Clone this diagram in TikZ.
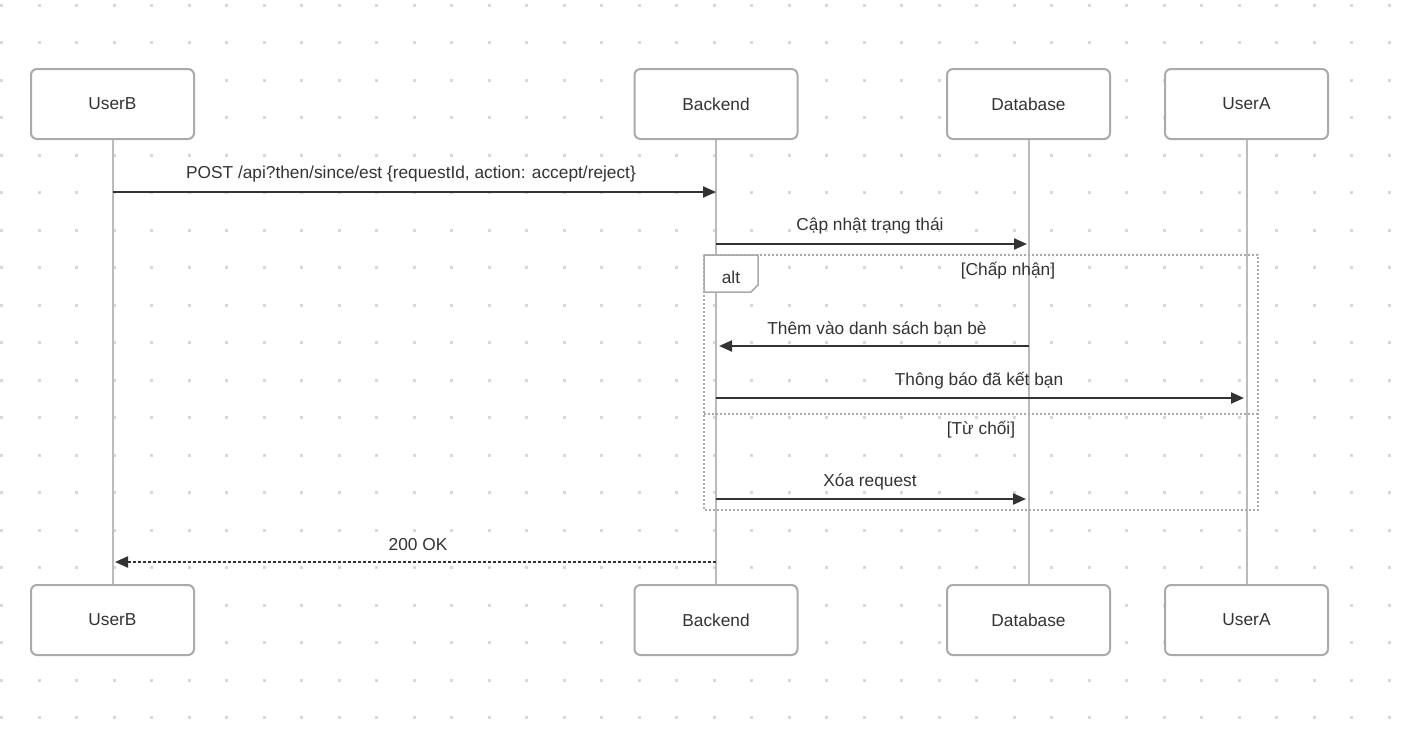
\documentclass[tikz,border=0pt]{standalone}
\usepackage{fontspec}
\setmainfont{Liberation Sans}
\usetikzlibrary{arrows.meta}
\definecolor{txt}{HTML}{333333}
\definecolor{boxline}{HTML}{AAAAAA}
\definecolor{life}{HTML}{BBBBBB}
\definecolor{griddot}{HTML}{D8D8D8}
\tikzset{
  actor/.style={draw=boxline, line width=2pt, rounded corners=6pt, fill=white,
    minimum width=163pt, minimum height=70pt, text=txt, font=\fontsize{17.3}{20}\selectfont},
  lifeline/.style={draw=life, line width=2pt},
  msg/.style={draw=txt, line width=2.2pt, -{Triangle[length=13pt,width=11pt]}},
  reply/.style={msg, dash pattern=on 3pt off 2pt},
  lbl/.style={text=txt, font=\fontsize{17.3}{20}\selectfont, inner sep=0pt},
  frameline/.style={draw=boxline, line width=2pt, dash pattern=on 2pt off 2pt},
}
\begin{document}
\begin{tikzpicture}[x=1pt,y=-1pt]
\useasboundingbox (0,0) rectangle (1407,728);
\fill[white] (0,0) rectangle (1407,728);
% dot grid
\foreach \i in {0,...,37}{
  \foreach \j in {0,...,19}{
    \fill[griddot] ({37.5*\i},{3.5+37.5*\j}) rectangle ++(3,3);
  }
}
% participants
\node[actor] (bT) at (112.5,104) {UserB};
\node[actor] (kT) at (716,104) {Backend};
\node[actor] (dT) at (1028.5,104) {Database};
\node[actor] (aT) at (1246.5,104) {UserA};
\node[actor] (bB) at (112.5,620) {UserB};
\node[actor] (kB) at (716,620) {Backend};
\node[actor] (dB) at (1028.5,620) {Database};
\node[actor] (aB) at (1246.5,620) {UserA};
\draw[lifeline] (bT.south) -- (bB.north);
\draw[lifeline] (kT.south) -- (kB.north);
\draw[lifeline] (dT.south) -- (dB.north);
\draw[lifeline] (aT.south) -- (aB.north);
% alt frame
\draw[frameline] (704,255) rectangle (1258,510);
\draw[frameline] (704,414) -- (1258,414);
\path[draw=boxline, line width=1.5pt, fill=white] (704,255) -- (758,255) -- (758,285) -- (751,292) -- (704,292) -- cycle;
\node[lbl] (altl) at (731,277) {alt};
\node[lbl] (g1) at (1008,271) {[Chấp nhận]};
\node[lbl] (g2) at (981,430) {[Từ chối]};
% message endpoints
\coordinate (m1a) at (112.5,192); \coordinate (m1b) at (716,192);
\coordinate (m2a) at (716,244);   \coordinate (m2b) at (1027,244);
\coordinate (m3a) at (1028.5,346);\coordinate (m3b) at (719,346);
\coordinate (m4a) at (716,398);   \coordinate (m4b) at (1244,398);
\coordinate (m5a) at (716,499);   \coordinate (m5b) at (1026,499);
\coordinate (m6a) at (716,562);   \coordinate (m6b) at (115,562);
\draw[msg] (m1a) -- (m1b);
\draw[msg] (m2a) -- (m2b);
\draw[msg] (m3a) -- (m3b);
\draw[msg] (m4a) -- (m4b);
\draw[msg] (m5a) -- (m5b);
\draw[reply] (m6a) -- (m6b);
\node[lbl] (t1) at (411,174) {POST /api?then/since/est \{requestId, action: accept/reject\}};
\node[lbl] (t2) at (870,226) {Cập nhật trạng thái};
\node[lbl] (t3) at (877,329) {Thêm vào danh sách bạn bè};
\node[lbl] (t4) at (979,381) {Thông báo đã kết bạn};
\node[lbl] (t5) at (870,482) {Xóa request};
\node[lbl] (t6) at (418,545) {200 OK};
\end{tikzpicture}
\end{document}
